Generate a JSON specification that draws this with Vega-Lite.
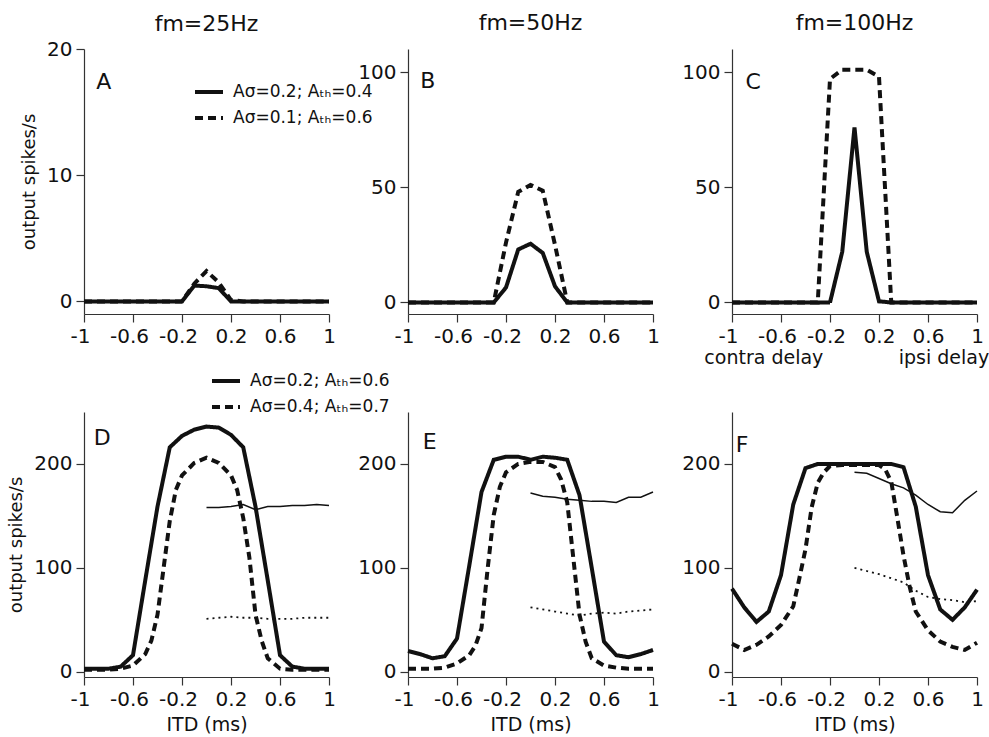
{
  "$schema": "https://vega.github.io/schema/vega-lite/v6.json",
  "background": "white",
  "padding": {"left": 7, "top": 12, "right": 0, "bottom": 0},
  "config": {
    "font": "DejaVu Sans",
    "view": {"stroke": null},
    "axis": {"grid": false, "domainColor": "#333", "tickColor": "#333", "labelColor": "#111", "labelFontSize": 20, "labelFont": "DejaVu Sans", "titleFont": "DejaVu Sans", "titleFontWeight": "normal", "titleColor": "#111", "tickSize": 8, "labelPadding": 4, "domainWidth": 1.2, "tickWidth": 1.2},
    "title": {"fontSize": 22, "fontWeight": "normal", "font": "DejaVu Sans", "color": "#111"},
    "legend": {"orient": "none", "title": null, "symbolType": "stroke", "symbolSize": 784, "symbolStrokeWidth": 4, "symbolStrokeColor": "#111", "labelFontSize": 17, "labelFont": "DejaVu Sans", "labelColor": "#111", "labelOffset": 8, "rowPadding": 2, "padding": 0}
  },
  "datasets": {
    "curves": [
      {"p":"A","s":"Aσ=0.2; Aₜₕ=0.4","x":-1,"y":0},{"p":"A","s":"Aσ=0.2; Aₜₕ=0.4","x":-0.9,"y":0},{"p":"A","s":"Aσ=0.2; Aₜₕ=0.4","x":-0.8,"y":0},{"p":"A","s":"Aσ=0.2; Aₜₕ=0.4","x":-0.7,"y":0},{"p":"A","s":"Aσ=0.2; Aₜₕ=0.4","x":-0.6,"y":0},{"p":"A","s":"Aσ=0.2; Aₜₕ=0.4","x":-0.5,"y":0},{"p":"A","s":"Aσ=0.2; Aₜₕ=0.4","x":-0.4,"y":0},{"p":"A","s":"Aσ=0.2; Aₜₕ=0.4","x":-0.3,"y":0},{"p":"A","s":"Aσ=0.2; Aₜₕ=0.4","x":-0.2,"y":0},{"p":"A","s":"Aσ=0.2; Aₜₕ=0.4","x":-0.1,"y":1.25},{"p":"A","s":"Aσ=0.2; Aₜₕ=0.4","x":0,"y":1.2},{"p":"A","s":"Aσ=0.2; Aₜₕ=0.4","x":0.1,"y":1.05},{"p":"A","s":"Aσ=0.2; Aₜₕ=0.4","x":0.2,"y":0},{"p":"A","s":"Aσ=0.2; Aₜₕ=0.4","x":0.3,"y":0},{"p":"A","s":"Aσ=0.2; Aₜₕ=0.4","x":0.4,"y":0},{"p":"A","s":"Aσ=0.2; Aₜₕ=0.4","x":0.5,"y":0},{"p":"A","s":"Aσ=0.2; Aₜₕ=0.4","x":0.6,"y":0},{"p":"A","s":"Aσ=0.2; Aₜₕ=0.4","x":0.7,"y":0},{"p":"A","s":"Aσ=0.2; Aₜₕ=0.4","x":0.8,"y":0},{"p":"A","s":"Aσ=0.2; Aₜₕ=0.4","x":0.9,"y":0},{"p":"A","s":"Aσ=0.2; Aₜₕ=0.4","x":1,"y":0},
      {"p":"A","s":"Aσ=0.1; Aₜₕ=0.6","x":-1,"y":0},{"p":"A","s":"Aσ=0.1; Aₜₕ=0.6","x":-0.9,"y":0},{"p":"A","s":"Aσ=0.1; Aₜₕ=0.6","x":-0.8,"y":0},{"p":"A","s":"Aσ=0.1; Aₜₕ=0.6","x":-0.7,"y":0},{"p":"A","s":"Aσ=0.1; Aₜₕ=0.6","x":-0.6,"y":0},{"p":"A","s":"Aσ=0.1; Aₜₕ=0.6","x":-0.5,"y":0},{"p":"A","s":"Aσ=0.1; Aₜₕ=0.6","x":-0.4,"y":0},{"p":"A","s":"Aσ=0.1; Aₜₕ=0.6","x":-0.3,"y":0},{"p":"A","s":"Aσ=0.1; Aₜₕ=0.6","x":-0.2,"y":0},{"p":"A","s":"Aσ=0.1; Aₜₕ=0.6","x":-0.1,"y":1.4},{"p":"A","s":"Aσ=0.1; Aₜₕ=0.6","x":0,"y":2.4},{"p":"A","s":"Aσ=0.1; Aₜₕ=0.6","x":0.1,"y":1.5},{"p":"A","s":"Aσ=0.1; Aₜₕ=0.6","x":0.2,"y":0.1},{"p":"A","s":"Aσ=0.1; Aₜₕ=0.6","x":0.3,"y":0},{"p":"A","s":"Aσ=0.1; Aₜₕ=0.6","x":0.4,"y":0},{"p":"A","s":"Aσ=0.1; Aₜₕ=0.6","x":0.5,"y":0},{"p":"A","s":"Aσ=0.1; Aₜₕ=0.6","x":0.6,"y":0},{"p":"A","s":"Aσ=0.1; Aₜₕ=0.6","x":0.7,"y":0},{"p":"A","s":"Aσ=0.1; Aₜₕ=0.6","x":0.8,"y":0},{"p":"A","s":"Aσ=0.1; Aₜₕ=0.6","x":0.9,"y":0},{"p":"A","s":"Aσ=0.1; Aₜₕ=0.6","x":1,"y":0},
      {"p":"B","s":"Aσ=0.2; Aₜₕ=0.4","x":-1,"y":0},{"p":"B","s":"Aσ=0.2; Aₜₕ=0.4","x":-0.9,"y":0},{"p":"B","s":"Aσ=0.2; Aₜₕ=0.4","x":-0.8,"y":0},{"p":"B","s":"Aσ=0.2; Aₜₕ=0.4","x":-0.7,"y":0},{"p":"B","s":"Aσ=0.2; Aₜₕ=0.4","x":-0.6,"y":0},{"p":"B","s":"Aσ=0.2; Aₜₕ=0.4","x":-0.5,"y":0},{"p":"B","s":"Aσ=0.2; Aₜₕ=0.4","x":-0.4,"y":0},{"p":"B","s":"Aσ=0.2; Aₜₕ=0.4","x":-0.3,"y":0},{"p":"B","s":"Aσ=0.2; Aₜₕ=0.4","x":-0.2,"y":6.5},{"p":"B","s":"Aσ=0.2; Aₜₕ=0.4","x":-0.1,"y":23},{"p":"B","s":"Aσ=0.2; Aₜₕ=0.4","x":0,"y":25.5},{"p":"B","s":"Aσ=0.2; Aₜₕ=0.4","x":0.1,"y":21.5},{"p":"B","s":"Aσ=0.2; Aₜₕ=0.4","x":0.2,"y":7},{"p":"B","s":"Aσ=0.2; Aₜₕ=0.4","x":0.3,"y":0},{"p":"B","s":"Aσ=0.2; Aₜₕ=0.4","x":0.4,"y":0},{"p":"B","s":"Aσ=0.2; Aₜₕ=0.4","x":0.5,"y":0},{"p":"B","s":"Aσ=0.2; Aₜₕ=0.4","x":0.6,"y":0},{"p":"B","s":"Aσ=0.2; Aₜₕ=0.4","x":0.7,"y":0},{"p":"B","s":"Aσ=0.2; Aₜₕ=0.4","x":0.8,"y":0},{"p":"B","s":"Aσ=0.2; Aₜₕ=0.4","x":0.9,"y":0},{"p":"B","s":"Aσ=0.2; Aₜₕ=0.4","x":1,"y":0},
      {"p":"B","s":"Aσ=0.1; Aₜₕ=0.6","x":-1,"y":0},{"p":"B","s":"Aσ=0.1; Aₜₕ=0.6","x":-0.9,"y":0},{"p":"B","s":"Aσ=0.1; Aₜₕ=0.6","x":-0.8,"y":0},{"p":"B","s":"Aσ=0.1; Aₜₕ=0.6","x":-0.7,"y":0},{"p":"B","s":"Aσ=0.1; Aₜₕ=0.6","x":-0.6,"y":0},{"p":"B","s":"Aσ=0.1; Aₜₕ=0.6","x":-0.5,"y":0},{"p":"B","s":"Aσ=0.1; Aₜₕ=0.6","x":-0.4,"y":0},{"p":"B","s":"Aσ=0.1; Aₜₕ=0.6","x":-0.3,"y":0},{"p":"B","s":"Aσ=0.1; Aₜₕ=0.6","x":-0.2,"y":26},{"p":"B","s":"Aσ=0.1; Aₜₕ=0.6","x":-0.1,"y":48},{"p":"B","s":"Aσ=0.1; Aₜₕ=0.6","x":0,"y":51},{"p":"B","s":"Aσ=0.1; Aₜₕ=0.6","x":0.1,"y":48.5},{"p":"B","s":"Aσ=0.1; Aₜₕ=0.6","x":0.2,"y":25},{"p":"B","s":"Aσ=0.1; Aₜₕ=0.6","x":0.3,"y":0},{"p":"B","s":"Aσ=0.1; Aₜₕ=0.6","x":0.4,"y":0},{"p":"B","s":"Aσ=0.1; Aₜₕ=0.6","x":0.5,"y":0},{"p":"B","s":"Aσ=0.1; Aₜₕ=0.6","x":0.6,"y":0},{"p":"B","s":"Aσ=0.1; Aₜₕ=0.6","x":0.7,"y":0},{"p":"B","s":"Aσ=0.1; Aₜₕ=0.6","x":0.8,"y":0},{"p":"B","s":"Aσ=0.1; Aₜₕ=0.6","x":0.9,"y":0},{"p":"B","s":"Aσ=0.1; Aₜₕ=0.6","x":1,"y":0},
      {"p":"C","s":"Aσ=0.2; Aₜₕ=0.4","x":-1,"y":0},{"p":"C","s":"Aσ=0.2; Aₜₕ=0.4","x":-0.9,"y":0},{"p":"C","s":"Aσ=0.2; Aₜₕ=0.4","x":-0.8,"y":0},{"p":"C","s":"Aσ=0.2; Aₜₕ=0.4","x":-0.7,"y":0},{"p":"C","s":"Aσ=0.2; Aₜₕ=0.4","x":-0.6,"y":0},{"p":"C","s":"Aσ=0.2; Aₜₕ=0.4","x":-0.5,"y":0},{"p":"C","s":"Aσ=0.2; Aₜₕ=0.4","x":-0.4,"y":0},{"p":"C","s":"Aσ=0.2; Aₜₕ=0.4","x":-0.3,"y":0},{"p":"C","s":"Aσ=0.2; Aₜₕ=0.4","x":-0.2,"y":0},{"p":"C","s":"Aσ=0.2; Aₜₕ=0.4","x":-0.1,"y":22},{"p":"C","s":"Aσ=0.2; Aₜₕ=0.4","x":0,"y":76},{"p":"C","s":"Aσ=0.2; Aₜₕ=0.4","x":0.1,"y":22},{"p":"C","s":"Aσ=0.2; Aₜₕ=0.4","x":0.2,"y":0.5},{"p":"C","s":"Aσ=0.2; Aₜₕ=0.4","x":0.3,"y":0},{"p":"C","s":"Aσ=0.2; Aₜₕ=0.4","x":0.4,"y":0},{"p":"C","s":"Aσ=0.2; Aₜₕ=0.4","x":0.5,"y":0},{"p":"C","s":"Aσ=0.2; Aₜₕ=0.4","x":0.6,"y":0},{"p":"C","s":"Aσ=0.2; Aₜₕ=0.4","x":0.7,"y":0},{"p":"C","s":"Aσ=0.2; Aₜₕ=0.4","x":0.8,"y":0},{"p":"C","s":"Aσ=0.2; Aₜₕ=0.4","x":0.9,"y":0},{"p":"C","s":"Aσ=0.2; Aₜₕ=0.4","x":1,"y":0},
      {"p":"C","s":"Aσ=0.1; Aₜₕ=0.6","x":-1,"y":0},{"p":"C","s":"Aσ=0.1; Aₜₕ=0.6","x":-0.9,"y":0},{"p":"C","s":"Aσ=0.1; Aₜₕ=0.6","x":-0.8,"y":0},{"p":"C","s":"Aσ=0.1; Aₜₕ=0.6","x":-0.7,"y":0},{"p":"C","s":"Aσ=0.1; Aₜₕ=0.6","x":-0.6,"y":0},{"p":"C","s":"Aσ=0.1; Aₜₕ=0.6","x":-0.5,"y":0},{"p":"C","s":"Aσ=0.1; Aₜₕ=0.6","x":-0.4,"y":0},{"p":"C","s":"Aσ=0.1; Aₜₕ=0.6","x":-0.3,"y":0},{"p":"C","s":"Aσ=0.1; Aₜₕ=0.6","x":-0.2,"y":97},{"p":"C","s":"Aσ=0.1; Aₜₕ=0.6","x":-0.1,"y":101},{"p":"C","s":"Aσ=0.1; Aₜₕ=0.6","x":0,"y":101},{"p":"C","s":"Aσ=0.1; Aₜₕ=0.6","x":0.1,"y":101},{"p":"C","s":"Aσ=0.1; Aₜₕ=0.6","x":0.2,"y":98},{"p":"C","s":"Aσ=0.1; Aₜₕ=0.6","x":0.3,"y":0},{"p":"C","s":"Aσ=0.1; Aₜₕ=0.6","x":0.4,"y":0},{"p":"C","s":"Aσ=0.1; Aₜₕ=0.6","x":0.5,"y":0},{"p":"C","s":"Aσ=0.1; Aₜₕ=0.6","x":0.6,"y":0},{"p":"C","s":"Aσ=0.1; Aₜₕ=0.6","x":0.7,"y":0},{"p":"C","s":"Aσ=0.1; Aₜₕ=0.6","x":0.8,"y":0},{"p":"C","s":"Aσ=0.1; Aₜₕ=0.6","x":0.9,"y":0},{"p":"C","s":"Aσ=0.1; Aₜₕ=0.6","x":1,"y":0},
      {"p":"D","s":"Aσ=0.2; Aₜₕ=0.6","x":-1,"y":3},{"p":"D","s":"Aσ=0.2; Aₜₕ=0.6","x":-0.9,"y":3},{"p":"D","s":"Aσ=0.2; Aₜₕ=0.6","x":-0.8,"y":3},{"p":"D","s":"Aσ=0.2; Aₜₕ=0.6","x":-0.7,"y":5},{"p":"D","s":"Aσ=0.2; Aₜₕ=0.6","x":-0.6,"y":16},{"p":"D","s":"Aσ=0.2; Aₜₕ=0.6","x":-0.5,"y":88},{"p":"D","s":"Aσ=0.2; Aₜₕ=0.6","x":-0.4,"y":159},{"p":"D","s":"Aσ=0.2; Aₜₕ=0.6","x":-0.3,"y":216},{"p":"D","s":"Aσ=0.2; Aₜₕ=0.6","x":-0.2,"y":227},{"p":"D","s":"Aσ=0.2; Aₜₕ=0.6","x":-0.1,"y":233},{"p":"D","s":"Aσ=0.2; Aₜₕ=0.6","x":0,"y":236},{"p":"D","s":"Aσ=0.2; Aₜₕ=0.6","x":0.1,"y":235},{"p":"D","s":"Aσ=0.2; Aₜₕ=0.6","x":0.2,"y":228},{"p":"D","s":"Aσ=0.2; Aₜₕ=0.6","x":0.3,"y":216},{"p":"D","s":"Aσ=0.2; Aₜₕ=0.6","x":0.4,"y":159},{"p":"D","s":"Aσ=0.2; Aₜₕ=0.6","x":0.5,"y":88},{"p":"D","s":"Aσ=0.2; Aₜₕ=0.6","x":0.6,"y":16},{"p":"D","s":"Aσ=0.2; Aₜₕ=0.6","x":0.7,"y":5},{"p":"D","s":"Aσ=0.2; Aₜₕ=0.6","x":0.8,"y":3},{"p":"D","s":"Aσ=0.2; Aₜₕ=0.6","x":0.9,"y":3},{"p":"D","s":"Aσ=0.2; Aₜₕ=0.6","x":1,"y":3},
      {"p":"D","s":"Aσ=0.4; Aₜₕ=0.7","x":-1,"y":2},{"p":"D","s":"Aσ=0.4; Aₜₕ=0.7","x":-0.9,"y":2},{"p":"D","s":"Aσ=0.4; Aₜₕ=0.7","x":-0.8,"y":2},{"p":"D","s":"Aσ=0.4; Aₜₕ=0.7","x":-0.7,"y":3},{"p":"D","s":"Aσ=0.4; Aₜₕ=0.7","x":-0.6,"y":6},{"p":"D","s":"Aσ=0.4; Aₜₕ=0.7","x":-0.5,"y":17},{"p":"D","s":"Aσ=0.4; Aₜₕ=0.7","x":-0.45,"y":30},{"p":"D","s":"Aσ=0.4; Aₜₕ=0.7","x":-0.4,"y":55},{"p":"D","s":"Aσ=0.4; Aₜₕ=0.7","x":-0.35,"y":100},{"p":"D","s":"Aσ=0.4; Aₜₕ=0.7","x":-0.3,"y":145},{"p":"D","s":"Aσ=0.4; Aₜₕ=0.7","x":-0.25,"y":175},{"p":"D","s":"Aσ=0.4; Aₜₕ=0.7","x":-0.2,"y":189},{"p":"D","s":"Aσ=0.4; Aₜₕ=0.7","x":-0.1,"y":201},{"p":"D","s":"Aσ=0.4; Aₜₕ=0.7","x":0,"y":206},{"p":"D","s":"Aσ=0.4; Aₜₕ=0.7","x":0.1,"y":201},{"p":"D","s":"Aσ=0.4; Aₜₕ=0.7","x":0.2,"y":189},{"p":"D","s":"Aσ=0.4; Aₜₕ=0.7","x":0.25,"y":175},{"p":"D","s":"Aσ=0.4; Aₜₕ=0.7","x":0.3,"y":148},{"p":"D","s":"Aσ=0.4; Aₜₕ=0.7","x":0.35,"y":110},{"p":"D","s":"Aσ=0.4; Aₜₕ=0.7","x":0.4,"y":55},{"p":"D","s":"Aσ=0.4; Aₜₕ=0.7","x":0.45,"y":30},{"p":"D","s":"Aσ=0.4; Aₜₕ=0.7","x":0.5,"y":13},{"p":"D","s":"Aσ=0.4; Aₜₕ=0.7","x":0.6,"y":3},{"p":"D","s":"Aσ=0.4; Aₜₕ=0.7","x":0.7,"y":2},{"p":"D","s":"Aσ=0.4; Aₜₕ=0.7","x":0.8,"y":2},{"p":"D","s":"Aσ=0.4; Aₜₕ=0.7","x":0.9,"y":2},{"p":"D","s":"Aσ=0.4; Aₜₕ=0.7","x":1,"y":2},
      {"p":"E","s":"Aσ=0.2; Aₜₕ=0.6","x":-1,"y":20},{"p":"E","s":"Aσ=0.2; Aₜₕ=0.6","x":-0.9,"y":17},{"p":"E","s":"Aσ=0.2; Aₜₕ=0.6","x":-0.8,"y":13},{"p":"E","s":"Aσ=0.2; Aₜₕ=0.6","x":-0.7,"y":15},{"p":"E","s":"Aσ=0.2; Aₜₕ=0.6","x":-0.6,"y":32},{"p":"E","s":"Aσ=0.2; Aₜₕ=0.6","x":-0.5,"y":102},{"p":"E","s":"Aσ=0.2; Aₜₕ=0.6","x":-0.4,"y":173},{"p":"E","s":"Aσ=0.2; Aₜₕ=0.6","x":-0.3,"y":204},{"p":"E","s":"Aσ=0.2; Aₜₕ=0.6","x":-0.2,"y":207},{"p":"E","s":"Aσ=0.2; Aₜₕ=0.6","x":-0.1,"y":207},{"p":"E","s":"Aσ=0.2; Aₜₕ=0.6","x":0,"y":204},{"p":"E","s":"Aσ=0.2; Aₜₕ=0.6","x":0.1,"y":207},{"p":"E","s":"Aσ=0.2; Aₜₕ=0.6","x":0.2,"y":206},{"p":"E","s":"Aσ=0.2; Aₜₕ=0.6","x":0.3,"y":204},{"p":"E","s":"Aσ=0.2; Aₜₕ=0.6","x":0.4,"y":170},{"p":"E","s":"Aσ=0.2; Aₜₕ=0.6","x":0.5,"y":100},{"p":"E","s":"Aσ=0.2; Aₜₕ=0.6","x":0.6,"y":29},{"p":"E","s":"Aσ=0.2; Aₜₕ=0.6","x":0.7,"y":16},{"p":"E","s":"Aσ=0.2; Aₜₕ=0.6","x":0.8,"y":14},{"p":"E","s":"Aσ=0.2; Aₜₕ=0.6","x":0.9,"y":17},{"p":"E","s":"Aσ=0.2; Aₜₕ=0.6","x":1,"y":21},
      {"p":"E","s":"Aσ=0.4; Aₜₕ=0.7","x":-1,"y":3},{"p":"E","s":"Aσ=0.4; Aₜₕ=0.7","x":-0.9,"y":3},{"p":"E","s":"Aσ=0.4; Aₜₕ=0.7","x":-0.8,"y":3},{"p":"E","s":"Aσ=0.4; Aₜₕ=0.7","x":-0.7,"y":4},{"p":"E","s":"Aσ=0.4; Aₜₕ=0.7","x":-0.6,"y":8},{"p":"E","s":"Aσ=0.4; Aₜₕ=0.7","x":-0.5,"y":16},{"p":"E","s":"Aσ=0.4; Aₜₕ=0.7","x":-0.45,"y":25},{"p":"E","s":"Aσ=0.4; Aₜₕ=0.7","x":-0.4,"y":42},{"p":"E","s":"Aσ=0.4; Aₜₕ=0.7","x":-0.35,"y":99},{"p":"E","s":"Aσ=0.4; Aₜₕ=0.7","x":-0.3,"y":151},{"p":"E","s":"Aσ=0.4; Aₜₕ=0.7","x":-0.25,"y":178},{"p":"E","s":"Aσ=0.4; Aₜₕ=0.7","x":-0.2,"y":192},{"p":"E","s":"Aσ=0.4; Aₜₕ=0.7","x":-0.1,"y":200},{"p":"E","s":"Aσ=0.4; Aₜₕ=0.7","x":0,"y":202},{"p":"E","s":"Aσ=0.4; Aₜₕ=0.7","x":0.1,"y":202},{"p":"E","s":"Aσ=0.4; Aₜₕ=0.7","x":0.2,"y":197},{"p":"E","s":"Aσ=0.4; Aₜₕ=0.7","x":0.25,"y":185},{"p":"E","s":"Aσ=0.4; Aₜₕ=0.7","x":0.3,"y":163},{"p":"E","s":"Aσ=0.4; Aₜₕ=0.7","x":0.35,"y":109},{"p":"E","s":"Aσ=0.4; Aₜₕ=0.7","x":0.4,"y":55},{"p":"E","s":"Aσ=0.4; Aₜₕ=0.7","x":0.45,"y":29},{"p":"E","s":"Aσ=0.4; Aₜₕ=0.7","x":0.5,"y":13},{"p":"E","s":"Aσ=0.4; Aₜₕ=0.7","x":0.6,"y":6},{"p":"E","s":"Aσ=0.4; Aₜₕ=0.7","x":0.7,"y":4},{"p":"E","s":"Aσ=0.4; Aₜₕ=0.7","x":0.8,"y":3},{"p":"E","s":"Aσ=0.4; Aₜₕ=0.7","x":0.9,"y":3},{"p":"E","s":"Aσ=0.4; Aₜₕ=0.7","x":1,"y":3},
      {"p":"F","s":"Aσ=0.2; Aₜₕ=0.6","x":-1,"y":80},{"p":"F","s":"Aσ=0.2; Aₜₕ=0.6","x":-0.9,"y":62},{"p":"F","s":"Aσ=0.2; Aₜₕ=0.6","x":-0.8,"y":48},{"p":"F","s":"Aσ=0.2; Aₜₕ=0.6","x":-0.7,"y":58},{"p":"F","s":"Aσ=0.2; Aₜₕ=0.6","x":-0.6,"y":93},{"p":"F","s":"Aσ=0.2; Aₜₕ=0.6","x":-0.5,"y":161},{"p":"F","s":"Aσ=0.2; Aₜₕ=0.6","x":-0.4,"y":196},{"p":"F","s":"Aσ=0.2; Aₜₕ=0.6","x":-0.3,"y":200},{"p":"F","s":"Aσ=0.2; Aₜₕ=0.6","x":-0.2,"y":200},{"p":"F","s":"Aσ=0.2; Aₜₕ=0.6","x":-0.1,"y":200},{"p":"F","s":"Aσ=0.2; Aₜₕ=0.6","x":0,"y":200},{"p":"F","s":"Aσ=0.2; Aₜₕ=0.6","x":0.1,"y":200},{"p":"F","s":"Aσ=0.2; Aₜₕ=0.6","x":0.2,"y":200},{"p":"F","s":"Aσ=0.2; Aₜₕ=0.6","x":0.3,"y":200},{"p":"F","s":"Aσ=0.2; Aₜₕ=0.6","x":0.4,"y":197},{"p":"F","s":"Aσ=0.2; Aₜₕ=0.6","x":0.5,"y":159},{"p":"F","s":"Aσ=0.2; Aₜₕ=0.6","x":0.6,"y":93},{"p":"F","s":"Aσ=0.2; Aₜₕ=0.6","x":0.7,"y":60},{"p":"F","s":"Aσ=0.2; Aₜₕ=0.6","x":0.8,"y":50},{"p":"F","s":"Aσ=0.2; Aₜₕ=0.6","x":0.9,"y":62},{"p":"F","s":"Aσ=0.2; Aₜₕ=0.6","x":1,"y":79},
      {"p":"F","s":"Aσ=0.4; Aₜₕ=0.7","x":-1,"y":27},{"p":"F","s":"Aσ=0.4; Aₜₕ=0.7","x":-0.9,"y":21},{"p":"F","s":"Aσ=0.4; Aₜₕ=0.7","x":-0.8,"y":26},{"p":"F","s":"Aσ=0.4; Aₜₕ=0.7","x":-0.7,"y":34},{"p":"F","s":"Aσ=0.4; Aₜₕ=0.7","x":-0.6,"y":45},{"p":"F","s":"Aσ=0.4; Aₜₕ=0.7","x":-0.5,"y":63},{"p":"F","s":"Aσ=0.4; Aₜₕ=0.7","x":-0.45,"y":90},{"p":"F","s":"Aσ=0.4; Aₜₕ=0.7","x":-0.4,"y":118},{"p":"F","s":"Aσ=0.4; Aₜₕ=0.7","x":-0.35,"y":158},{"p":"F","s":"Aσ=0.4; Aₜₕ=0.7","x":-0.3,"y":182},{"p":"F","s":"Aσ=0.4; Aₜₕ=0.7","x":-0.25,"y":192},{"p":"F","s":"Aσ=0.4; Aₜₕ=0.7","x":-0.2,"y":198},{"p":"F","s":"Aσ=0.4; Aₜₕ=0.7","x":-0.1,"y":199},{"p":"F","s":"Aσ=0.4; Aₜₕ=0.7","x":0,"y":199},{"p":"F","s":"Aσ=0.4; Aₜₕ=0.7","x":0.1,"y":199},{"p":"F","s":"Aσ=0.4; Aₜₕ=0.7","x":0.2,"y":199},{"p":"F","s":"Aσ=0.4; Aₜₕ=0.7","x":0.25,"y":195},{"p":"F","s":"Aσ=0.4; Aₜₕ=0.7","x":0.3,"y":183},{"p":"F","s":"Aσ=0.4; Aₜₕ=0.7","x":0.35,"y":148},{"p":"F","s":"Aσ=0.4; Aₜₕ=0.7","x":0.4,"y":112},{"p":"F","s":"Aσ=0.4; Aₜₕ=0.7","x":0.45,"y":82},{"p":"F","s":"Aσ=0.4; Aₜₕ=0.7","x":0.5,"y":58},{"p":"F","s":"Aσ=0.4; Aₜₕ=0.7","x":0.6,"y":40},{"p":"F","s":"Aσ=0.4; Aₜₕ=0.7","x":0.7,"y":29},{"p":"F","s":"Aσ=0.4; Aₜₕ=0.7","x":0.8,"y":24},{"p":"F","s":"Aσ=0.4; Aₜₕ=0.7","x":0.9,"y":21},{"p":"F","s":"Aσ=0.4; Aₜₕ=0.7","x":1,"y":28},
      {"p":"D","s":"thin solid","x":0,"y":158},{"p":"D","s":"thin solid","x":0.1,"y":158},{"p":"D","s":"thin solid","x":0.2,"y":159},{"p":"D","s":"thin solid","x":0.3,"y":161},{"p":"D","s":"thin solid","x":0.4,"y":156},{"p":"D","s":"thin solid","x":0.5,"y":159},{"p":"D","s":"thin solid","x":0.6,"y":159},{"p":"D","s":"thin solid","x":0.7,"y":160},{"p":"D","s":"thin solid","x":0.8,"y":160},{"p":"D","s":"thin solid","x":0.9,"y":161},{"p":"D","s":"thin solid","x":1,"y":160},
      {"p":"D","s":"thin dotted","x":0,"y":51},{"p":"D","s":"thin dotted","x":0.1,"y":52},{"p":"D","s":"thin dotted","x":0.2,"y":53},{"p":"D","s":"thin dotted","x":0.3,"y":52},{"p":"D","s":"thin dotted","x":0.4,"y":52},{"p":"D","s":"thin dotted","x":0.5,"y":51},{"p":"D","s":"thin dotted","x":0.6,"y":51},{"p":"D","s":"thin dotted","x":0.7,"y":51},{"p":"D","s":"thin dotted","x":0.8,"y":52},{"p":"D","s":"thin dotted","x":0.9,"y":52},{"p":"D","s":"thin dotted","x":1,"y":52},
      {"p":"E","s":"thin solid","x":0,"y":172},{"p":"E","s":"thin solid","x":0.1,"y":169},{"p":"E","s":"thin solid","x":0.2,"y":168},{"p":"E","s":"thin solid","x":0.3,"y":166},{"p":"E","s":"thin solid","x":0.4,"y":165},{"p":"E","s":"thin solid","x":0.5,"y":164},{"p":"E","s":"thin solid","x":0.6,"y":164},{"p":"E","s":"thin solid","x":0.7,"y":163},{"p":"E","s":"thin solid","x":0.8,"y":168},{"p":"E","s":"thin solid","x":0.9,"y":168},{"p":"E","s":"thin solid","x":1,"y":173},
      {"p":"E","s":"thin dotted","x":0,"y":62},{"p":"E","s":"thin dotted","x":0.1,"y":60},{"p":"E","s":"thin dotted","x":0.2,"y":58},{"p":"E","s":"thin dotted","x":0.3,"y":56},{"p":"E","s":"thin dotted","x":0.4,"y":54},{"p":"E","s":"thin dotted","x":0.5,"y":56},{"p":"E","s":"thin dotted","x":0.6,"y":57},{"p":"E","s":"thin dotted","x":0.7,"y":56},{"p":"E","s":"thin dotted","x":0.8,"y":58},{"p":"E","s":"thin dotted","x":0.9,"y":59},{"p":"E","s":"thin dotted","x":1,"y":60},
      {"p":"F","s":"thin solid","x":0,"y":192},{"p":"F","s":"thin solid","x":0.1,"y":191},{"p":"F","s":"thin solid","x":0.2,"y":186},{"p":"F","s":"thin solid","x":0.3,"y":181},{"p":"F","s":"thin solid","x":0.4,"y":177},{"p":"F","s":"thin solid","x":0.5,"y":170},{"p":"F","s":"thin solid","x":0.6,"y":161},{"p":"F","s":"thin solid","x":0.7,"y":154},{"p":"F","s":"thin solid","x":0.8,"y":153},{"p":"F","s":"thin solid","x":0.9,"y":165},{"p":"F","s":"thin solid","x":1,"y":174},
      {"p":"F","s":"thin dotted","x":0,"y":100},{"p":"F","s":"thin dotted","x":0.1,"y":97},{"p":"F","s":"thin dotted","x":0.2,"y":94},{"p":"F","s":"thin dotted","x":0.3,"y":90},{"p":"F","s":"thin dotted","x":0.4,"y":86},{"p":"F","s":"thin dotted","x":0.5,"y":78},{"p":"F","s":"thin dotted","x":0.6,"y":72},{"p":"F","s":"thin dotted","x":0.7,"y":70},{"p":"F","s":"thin dotted","x":0.8,"y":69},{"p":"F","s":"thin dotted","x":0.9,"y":67},{"p":"F","s":"thin dotted","x":1,"y":68}
    ],
    "letters": [
      {"p":"A","t":"A","x":-0.9,"y":16.85},
      {"p":"B","t":"B","x":-0.9,"y":93},
      {"p":"C","t":"C","x":-0.89,"y":92.7},
      {"p":"D","t":"D","x":-0.92,"y":218},
      {"p":"E","t":"E","x":-0.88,"y":214.7},
      {"p":"F","t":"F","x":-0.97,"y":211.5}
    ],
    "delays": [
      {"t":"contra delay","x":-0.74,"y":-26.8},
      {"t":"ipsi delay","x":0.73,"y":-26.8}
    ]
  },
  "columns": 3,
  "spacing": {"row": 98, "column": 79},
  "bounds": "flush",
  "resolve": {"scale": {"strokeDash": "independent"}, "legend": {"strokeDash": "independent"}},
  "concat": [
    {
      "width": 245, "height": 265,
      "title": {"text": "fm=25Hz", "offset": 3},
      "layer": [
        {
          "data": {"name": "curves"},
          "transform": [{"filter": "datum.p === 'A' && datum.s !== 'thin solid' && datum.s !== 'thin dotted'"}],
          "mark": {"type": "line", "strokeWidth": 4, "color": "#111"},
          "encoding": {
            "x": {"field": "x", "type": "quantitative", "scale": {"domain": [-1, 1], "nice": false}, "axis": {"title": null, "values": [-1,-0.8,-0.6,-0.4,-0.2,0,0.2,0.4,0.6,0.8,1], "labelExpr": "indexof([-1,-0.6,-0.2,0,0.2,0.6,1], datum.value) >= 0 ? '' + datum.value : ''", "labelFlush": false, "labelOverlap": false, "labelOffset": {"condition": {"test": "datum.value < 0", "value": -4}, "value": 0}}},
            "y": {"field": "y", "type": "quantitative", "scale": {"domain": [-1, 20], "nice": false}, "axis": {"values": [0, 10, 20], "title": "output spikes/s", "titleFontSize": 18, "titlePadding": 8}},
            "strokeDash": {"field": "s", "type": "nominal", "scale": {"domain": ["Aσ=0.2; Aₜₕ=0.4", "Aσ=0.1; Aₜₕ=0.6"], "range": [[1, 0], [8, 5]]}, "legend": {"orient": "none", "legendX": 109, "legendY": 27, "labelFontSize": 17}}
          }
        },
        {
          "data": {"name": "letters"},
          "transform": [{"filter": "datum.p === 'A'"}],
          "mark": {"type": "text", "align": "left", "baseline": "alphabetic", "fontSize": 22, "color": "#111"},
          "encoding": {"x": {"field": "x", "type": "quantitative"}, "y": {"field": "y", "type": "quantitative"}, "text": {"field": "t"}}
        }
      ]
    },
    {
      "width": 245, "height": 265,
      "title": {"text": "fm=50Hz", "offset": 14},
      "layer": [
        {
          "data": {"name": "curves"},
          "transform": [{"filter": "datum.p === 'B' && datum.s !== 'thin solid' && datum.s !== 'thin dotted'"}],
          "mark": {"type": "line", "strokeWidth": 4, "color": "#111"},
          "encoding": {
            "x": {"field": "x", "type": "quantitative", "scale": {"domain": [-1, 1], "nice": false}, "axis": {"title": null, "values": [-1,-0.8,-0.6,-0.4,-0.2,0,0.2,0.4,0.6,0.8,1], "labelExpr": "indexof([-1,-0.6,-0.2,0,0.2,0.6,1], datum.value) >= 0 ? '' + datum.value : ''", "labelFlush": false, "labelOverlap": false, "labelOffset": {"condition": {"test": "datum.value < 0", "value": -4}, "value": 0}}},
            "y": {"field": "y", "type": "quantitative", "scale": {"domain": [-5, 110], "nice": false}, "axis": {"values": [0, 50, 100], "title": null}},
            "strokeDash": {"field": "s", "type": "nominal", "scale": {"domain": ["Aσ=0.2; Aₜₕ=0.4", "Aσ=0.1; Aₜₕ=0.6"], "range": [[1, 0], [8, 5]]}, "legend": null}
          }
        },
        {
          "data": {"name": "letters"},
          "transform": [{"filter": "datum.p === 'B'"}],
          "mark": {"type": "text", "align": "left", "baseline": "alphabetic", "fontSize": 22, "color": "#111"},
          "encoding": {"x": {"field": "x", "type": "quantitative"}, "y": {"field": "y", "type": "quantitative"}, "text": {"field": "t"}}
        }
      ]
    },
    {
      "width": 245, "height": 265,
      "title": {"text": "fm=100Hz", "offset": 14},
      "layer": [
        {
          "data": {"name": "curves"},
          "transform": [{"filter": "datum.p === 'C' && datum.s !== 'thin solid' && datum.s !== 'thin dotted'"}],
          "mark": {"type": "line", "strokeWidth": 4, "color": "#111"},
          "encoding": {
            "x": {"field": "x", "type": "quantitative", "scale": {"domain": [-1, 1], "nice": false}, "axis": {"title": null, "values": [-1,-0.8,-0.6,-0.4,-0.2,0,0.2,0.4,0.6,0.8,1], "labelExpr": "indexof([-1,-0.6,-0.2,0,0.2,0.6,1], datum.value) >= 0 ? '' + datum.value : ''", "labelFlush": false, "labelOverlap": false, "labelOffset": {"condition": {"test": "datum.value < 0", "value": -4}, "value": 0}}},
            "y": {"field": "y", "type": "quantitative", "scale": {"domain": [-5, 110], "nice": false}, "axis": {"values": [0, 50, 100], "title": null}},
            "strokeDash": {"field": "s", "type": "nominal", "scale": {"domain": ["Aσ=0.2; Aₜₕ=0.4", "Aσ=0.1; Aₜₕ=0.6"], "range": [[1, 0], [8, 5]]}, "legend": null}
          }
        },
        {
          "data": {"name": "letters"},
          "transform": [{"filter": "datum.p === 'C'"}],
          "mark": {"type": "text", "align": "left", "baseline": "alphabetic", "fontSize": 22, "color": "#111"},
          "encoding": {"x": {"field": "x", "type": "quantitative"}, "y": {"field": "y", "type": "quantitative"}, "text": {"field": "t"}}
        },
        {
          "data": {"name": "delays"},
          "mark": {"type": "text", "align": "center", "baseline": "alphabetic", "fontSize": 19, "color": "#111"},
          "encoding": {"x": {"field": "x", "type": "quantitative"}, "y": {"field": "y", "type": "quantitative"}, "text": {"field": "t"}}
        }
      ]
    },
    {
      "width": 245, "height": 265,
      "layer": [
        {
          "data": {"name": "curves"},
          "transform": [{"filter": "datum.p === 'D' && datum.s !== 'thin solid' && datum.s !== 'thin dotted'"}],
          "mark": {"type": "line", "strokeWidth": 4, "color": "#111"},
          "encoding": {
            "x": {"field": "x", "type": "quantitative", "scale": {"domain": [-1, 1], "nice": false}, "axis": {"title": "ITD (ms)", "titleFontSize": 19, "titlePadding": 6, "values": [-1,-0.8,-0.6,-0.4,-0.2,0,0.2,0.4,0.6,0.8,1], "labelExpr": "indexof([-1,-0.6,-0.2,0,0.2,0.6,1], datum.value) >= 0 ? '' + datum.value : ''", "labelFlush": false, "labelOverlap": false, "labelOffset": {"condition": {"test": "datum.value < 0", "value": -4}, "value": 0}}},
            "y": {"field": "y", "type": "quantitative", "scale": {"domain": [-5, 250], "nice": false}, "axis": {"values": [0, 100, 200], "title": "output spikes/s", "titleFontSize": 18, "titlePadding": 8}},
            "strokeDash": {"field": "s", "type": "nominal", "scale": {"domain": ["Aσ=0.2; Aₜₕ=0.6", "Aσ=0.4; Aₜₕ=0.7"], "range": [[1, 0], [8, 5]]}, "legend": {"orient": "none", "legendX": 126, "legendY": -47, "labelFontSize": 17}}
          }
        },
        {
          "data": {"name": "curves"},
          "transform": [{"filter": "datum.p === 'D' && datum.s === 'thin solid'"}],
          "mark": {"type": "line", "strokeWidth": 1.5, "color": "#111"},
          "encoding": {"x": {"field": "x", "type": "quantitative"}, "y": {"field": "y", "type": "quantitative"}}
        },
        {
          "data": {"name": "curves"},
          "transform": [{"filter": "datum.p === 'D' && datum.s === 'thin dotted'"}],
          "mark": {"type": "line", "strokeWidth": 1.8, "strokeDash": [2, 4], "color": "#111"},
          "encoding": {"x": {"field": "x", "type": "quantitative"}, "y": {"field": "y", "type": "quantitative"}}
        },
        {
          "data": {"name": "letters"},
          "transform": [{"filter": "datum.p === 'D'"}],
          "mark": {"type": "text", "align": "left", "baseline": "alphabetic", "fontSize": 22, "color": "#111"},
          "encoding": {"x": {"field": "x", "type": "quantitative"}, "y": {"field": "y", "type": "quantitative"}, "text": {"field": "t"}}
        }
      ]
    },
    {
      "width": 245, "height": 265,
      "layer": [
        {
          "data": {"name": "curves"},
          "transform": [{"filter": "datum.p === 'E' && datum.s !== 'thin solid' && datum.s !== 'thin dotted'"}],
          "mark": {"type": "line", "strokeWidth": 4, "color": "#111"},
          "encoding": {
            "x": {"field": "x", "type": "quantitative", "scale": {"domain": [-1, 1], "nice": false}, "axis": {"title": "ITD (ms)", "titleFontSize": 19, "titlePadding": 6, "values": [-1,-0.8,-0.6,-0.4,-0.2,0,0.2,0.4,0.6,0.8,1], "labelExpr": "indexof([-1,-0.6,-0.2,0,0.2,0.6,1], datum.value) >= 0 ? '' + datum.value : ''", "labelFlush": false, "labelOverlap": false, "labelOffset": {"condition": {"test": "datum.value < 0", "value": -4}, "value": 0}}},
            "y": {"field": "y", "type": "quantitative", "scale": {"domain": [-5, 250], "nice": false}, "axis": {"values": [0, 100, 200], "title": null}},
            "strokeDash": {"field": "s", "type": "nominal", "scale": {"domain": ["Aσ=0.2; Aₜₕ=0.6", "Aσ=0.4; Aₜₕ=0.7"], "range": [[1, 0], [8, 5]]}, "legend": null}
          }
        },
        {
          "data": {"name": "curves"},
          "transform": [{"filter": "datum.p === 'E' && datum.s === 'thin solid'"}],
          "mark": {"type": "line", "strokeWidth": 1.5, "color": "#111"},
          "encoding": {"x": {"field": "x", "type": "quantitative"}, "y": {"field": "y", "type": "quantitative"}}
        },
        {
          "data": {"name": "curves"},
          "transform": [{"filter": "datum.p === 'E' && datum.s === 'thin dotted'"}],
          "mark": {"type": "line", "strokeWidth": 1.8, "strokeDash": [2, 4], "color": "#111"},
          "encoding": {"x": {"field": "x", "type": "quantitative"}, "y": {"field": "y", "type": "quantitative"}}
        },
        {
          "data": {"name": "letters"},
          "transform": [{"filter": "datum.p === 'E'"}],
          "mark": {"type": "text", "align": "left", "baseline": "alphabetic", "fontSize": 22, "color": "#111"},
          "encoding": {"x": {"field": "x", "type": "quantitative"}, "y": {"field": "y", "type": "quantitative"}, "text": {"field": "t"}}
        }
      ]
    },
    {
      "width": 245, "height": 265,
      "layer": [
        {
          "data": {"name": "curves"},
          "transform": [{"filter": "datum.p === 'F' && datum.s !== 'thin solid' && datum.s !== 'thin dotted'"}],
          "mark": {"type": "line", "strokeWidth": 4, "color": "#111"},
          "encoding": {
            "x": {"field": "x", "type": "quantitative", "scale": {"domain": [-1, 1], "nice": false}, "axis": {"title": "ITD (ms)", "titleFontSize": 19, "titlePadding": 6, "values": [-1,-0.8,-0.6,-0.4,-0.2,0,0.2,0.4,0.6,0.8,1], "labelExpr": "indexof([-1,-0.6,-0.2,0,0.2,0.6,1], datum.value) >= 0 ? '' + datum.value : ''", "labelFlush": false, "labelOverlap": false, "labelOffset": {"condition": {"test": "datum.value < 0", "value": -4}, "value": 0}}},
            "y": {"field": "y", "type": "quantitative", "scale": {"domain": [-5, 250], "nice": false}, "axis": {"values": [0, 100, 200], "title": null}},
            "strokeDash": {"field": "s", "type": "nominal", "scale": {"domain": ["Aσ=0.2; Aₜₕ=0.6", "Aσ=0.4; Aₜₕ=0.7"], "range": [[1, 0], [8, 5]]}, "legend": null}
          }
        },
        {
          "data": {"name": "curves"},
          "transform": [{"filter": "datum.p === 'F' && datum.s === 'thin solid'"}],
          "mark": {"type": "line", "strokeWidth": 1.5, "color": "#111"},
          "encoding": {"x": {"field": "x", "type": "quantitative"}, "y": {"field": "y", "type": "quantitative"}}
        },
        {
          "data": {"name": "curves"},
          "transform": [{"filter": "datum.p === 'F' && datum.s === 'thin dotted'"}],
          "mark": {"type": "line", "strokeWidth": 1.8, "strokeDash": [2, 4], "color": "#111"},
          "encoding": {"x": {"field": "x", "type": "quantitative"}, "y": {"field": "y", "type": "quantitative"}}
        },
        {
          "data": {"name": "letters"},
          "transform": [{"filter": "datum.p === 'F'"}],
          "mark": {"type": "text", "align": "left", "baseline": "alphabetic", "fontSize": 22, "color": "#111"},
          "encoding": {"x": {"field": "x", "type": "quantitative"}, "y": {"field": "y", "type": "quantitative"}, "text": {"field": "t"}}
        }
      ]
    }
  ]
}
